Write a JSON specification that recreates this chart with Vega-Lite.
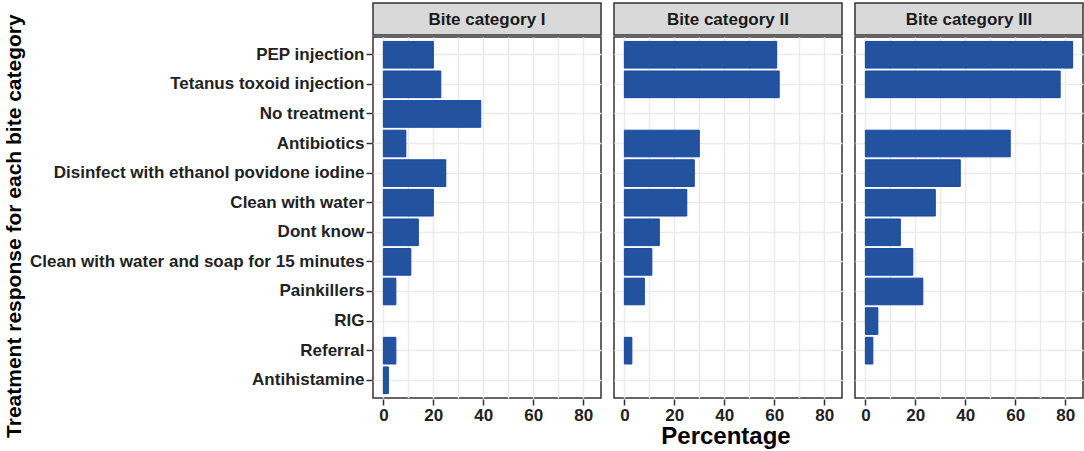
{
  "$schema": "https://vega.github.io/schema/vega-lite/v6.json",
  "background": "white",
  "padding": {"left": 3, "top": 2, "right": 4, "bottom": 0},
  "title": {"text": "Treatment response for each bite category", "orient": "left", "anchor": "middle", "font": "Liberation Sans", "fontSize": 21, "fontWeight": "bold", "color": "#000000", "offset": 5},
  "datasets": {
    "strips": [
      {"panel": "Bite category I"},
      {"panel": "Bite category II"},
      {"panel": "Bite category III"}
    ],
    "xtitle": [{"label": "Percentage"}],
    "bars": [
      {"panel": "Bite category I", "treatment": "PEP injection", "percentage": 20},
      {"panel": "Bite category I", "treatment": "Tetanus toxoid injection", "percentage": 23},
      {"panel": "Bite category I", "treatment": "No treatment", "percentage": 39},
      {"panel": "Bite category I", "treatment": "Antibiotics", "percentage": 9},
      {"panel": "Bite category I", "treatment": "Disinfect with ethanol povidone iodine", "percentage": 25},
      {"panel": "Bite category I", "treatment": "Clean with water", "percentage": 20},
      {"panel": "Bite category I", "treatment": "Dont know", "percentage": 14},
      {"panel": "Bite category I", "treatment": "Clean with water and soap for 15 minutes", "percentage": 11},
      {"panel": "Bite category I", "treatment": "Painkillers", "percentage": 5},
      {"panel": "Bite category I", "treatment": "Referral", "percentage": 5},
      {"panel": "Bite category I", "treatment": "Antihistamine", "percentage": 2},
      {"panel": "Bite category II", "treatment": "PEP injection", "percentage": 61},
      {"panel": "Bite category II", "treatment": "Tetanus toxoid injection", "percentage": 62},
      {"panel": "Bite category II", "treatment": "Antibiotics", "percentage": 30},
      {"panel": "Bite category II", "treatment": "Disinfect with ethanol povidone iodine", "percentage": 28},
      {"panel": "Bite category II", "treatment": "Clean with water", "percentage": 25},
      {"panel": "Bite category II", "treatment": "Dont know", "percentage": 14},
      {"panel": "Bite category II", "treatment": "Clean with water and soap for 15 minutes", "percentage": 11},
      {"panel": "Bite category II", "treatment": "Painkillers", "percentage": 8},
      {"panel": "Bite category II", "treatment": "Referral", "percentage": 3},
      {"panel": "Bite category III", "treatment": "PEP injection", "percentage": 83},
      {"panel": "Bite category III", "treatment": "Tetanus toxoid injection", "percentage": 78},
      {"panel": "Bite category III", "treatment": "Antibiotics", "percentage": 58},
      {"panel": "Bite category III", "treatment": "Disinfect with ethanol povidone iodine", "percentage": 38},
      {"panel": "Bite category III", "treatment": "Clean with water", "percentage": 28},
      {"panel": "Bite category III", "treatment": "Dont know", "percentage": 14},
      {"panel": "Bite category III", "treatment": "Clean with water and soap for 15 minutes", "percentage": 19},
      {"panel": "Bite category III", "treatment": "Painkillers", "percentage": 23},
      {"panel": "Bite category III", "treatment": "RIG", "percentage": 5},
      {"panel": "Bite category III", "treatment": "Referral", "percentage": 3}
    ]
  },
  "spacing": 0,
  "vconcat": [
    {
      "data": {"name": "strips"},
      "spacing": 11,
      "facet": {
        "column": {"field": "panel", "type": "nominal", "title": null, "header": {"labels": false, "title": null}}
      },
      "spec": {
        "width": 228,
        "height": 32,
        "view": {"fill": "#d9d9d9", "stroke": "#333333", "strokeWidth": 1.5},
        "mark": {"type": "text", "font": "Liberation Sans", "fontWeight": "bold", "fontSize": 17, "color": "#1a1a1a", "dy": 1},
        "encoding": {"text": {"field": "panel", "type": "nominal"}}
      }
    },
    {
      "data": {"name": "bars"},
      "spacing": 11,
      "facet": {
        "column": {"field": "panel", "type": "nominal", "title": null, "header": {"labels": false, "title": null}}
      },
      "spec": {
        "width": 228,
        "height": 361,
        "view": {"fill": "white", "stroke": "#333333", "strokeWidth": 1.5},
        "mark": {"type": "bar", "color": "#23529e", "stroke": "#1447a6", "strokeWidth": 1},
        "encoding": {
          "y": {
            "field": "treatment",
            "type": "nominal",
            "title": null,
            "scale": {
              "domain": ["PEP injection", "Tetanus toxoid injection", "No treatment", "Antibiotics", "Disinfect with ethanol povidone iodine", "Clean with water", "Dont know", "Clean with water and soap for 15 minutes", "Painkillers", "RIG", "Referral", "Antihistamine"],
              "paddingInner": 0.1,
              "paddingOuter": 0.15
            },
            "axis": {"bandPosition": 0.5, "labelLimit": 400}
          },
          "x": {
            "field": "percentage",
            "type": "quantitative",
            "title": null,
            "scale": {"domain": [-4.15, 87.15], "nice": false, "zero": false},
            "axis": {
              "values": [0, 10, 20, 30, 40, 50, 60, 70, 80],
              "labelExpr": "datum.value % 20 == 0 ? datum.label : ''",
              "tickColor": {"condition": {"test": "datum.value % 20 != 0", "value": "transparent"}, "value": "#333333"}
            }
          }
        }
      }
    },
    {
      "data": {"name": "xtitle"},
      "width": 706,
      "height": 27,
      "view": {"stroke": null},
      "mark": {"type": "text", "font": "Liberation Sans", "fontWeight": "bold", "fontSize": 24, "color": "#000000", "baseline": "bottom", "dy": 4},
      "encoding": {"text": {"field": "label", "type": "nominal"}, "y": {"value": 22}}
    }
  ],
  "config": {
    "font": "Liberation Sans",
    "axis": {
      "domain": false,
      "grid": true,
      "gridColor": "#ebebeb",
      "gridWidth": 1.5,
      "tickColor": "#333333",
      "tickSize": 6,
      "tickWidth": 1.5,
      "labelFont": "Liberation Sans",
      "labelFontWeight": "bold",
      "labelFontSize": 17,
      "labelColor": "#222222",
      "labelPadding": 2
    }
  }
}
